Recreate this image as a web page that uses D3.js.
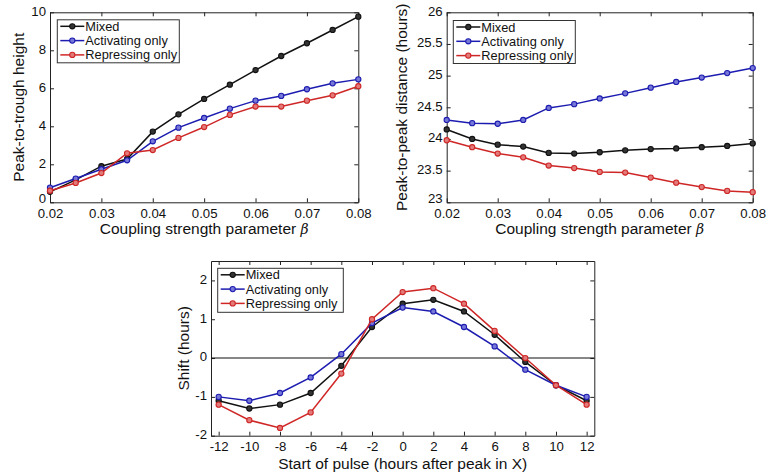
<!DOCTYPE html>
<html>
<head>
<meta charset="utf-8">
<script src="https://cdn.jsdelivr.net/npm/d3@7"></script>
<style>
  html, body { margin: 0; padding: 0; background: #fff; }
  svg { display: block; font-family: "Liberation Sans", Arial, Helvetica, sans-serif; }
  .tick text { font-size: 13.2px; fill: #111; }
  .axis path, .axis line { stroke: #222; }
</style>
</head>
<body>
<svg id="fig" width="769" height="475"></svg>
<script>
// Coupling strength sweep (top panels)
const betaValues = [0.02, 0.025, 0.03, 0.035, 0.04, 0.045, 0.05, 0.055, 0.06, 0.065, 0.07, 0.075, 0.08];

// Peak-to-trough height
const heightMixed      = [0.55, 1.18, 1.90, 2.28, 3.72, 4.63, 5.44, 6.19, 6.96, 7.70, 8.37, 9.07, 9.77];
const heightActivating = [0.77, 1.25, 1.74, 2.21, 3.21, 3.93, 4.44, 4.93, 5.35, 5.60, 5.95, 6.26, 6.47];
const heightRepressing = [0.61, 1.02, 1.54, 2.58, 2.75, 3.39, 3.96, 4.60, 5.04, 5.04, 5.35, 5.63, 6.11];

// Peak-to-peak distance (hours)
const periodMixed      = [24.15, 24.00, 23.91, 23.88, 23.78, 23.77, 23.79, 23.82, 23.84, 23.85, 23.87, 23.89, 23.93];
const periodActivating = [24.30, 24.25, 24.24, 24.30, 24.49, 24.55, 24.64, 24.72, 24.81, 24.90, 24.97, 25.04, 25.12];
const periodRepressing = [23.98, 23.87, 23.77, 23.71, 23.58, 23.54, 23.48, 23.47, 23.39, 23.31, 23.24, 23.18, 23.16];

// Pulse start times (hours after peak in X) and resulting phase shifts
const pulseStart     = [-12, -10, -8, -6, -4, -2, 0, 2, 4, 6, 8, 10, 12];
const shiftMixed      = [-1.1, -1.3, -1.2, -0.9, -0.2, 0.8, 1.4, 1.5, 1.2, 0.6, -0.1, -0.7, -1.1];
const shiftActivating = [-1.0, -1.1, -0.9, -0.5, 0.1, 0.9, 1.3, 1.2, 0.8, 0.3, -0.3, -0.7, -1.0];
const shiftRepressing = [-1.2, -1.6, -1.8, -1.4, -0.4, 1.0, 1.7, 1.8, 1.4, 0.7, 0.0, -0.7, -1.2];

const seriesNames = ["Mixed", "Activating only", "Repressing only"];
const seriesColors = ["#111111", "#1c1cb0", "#cf2626"];
const seriesFills  = ["#333333", "#7777d8", "#e27a7a"];

const betaTicks = [0.02, 0.03, 0.04, 0.05, 0.06, 0.07, 0.08];
const heightTicks = [0, 2, 4, 6, 8, 10];
const periodTicks = [23, 23.5, 24, 24.5, 25, 25.5, 26];
const pulseTicks = [-12, -10, -8, -6, -4, -2, 0, 2, 4, 6, 8, 10, 12];
const shiftTicks = [-2, -1, 0, 1, 2];

const svg = d3.select("#fig");

function panel(opts) {
  const { left, right, top, bottom, xDomain, yDomain, xTicks, yTicks, xFmt, yFmt,
          xs, ys, xTitle, yTitle, yTitleX, xTitleY, legend, zeroLine, xPad, liftFirst } = opts;
  const x = d3.scaleLinear().domain(xDomain).range([left, right]);
  const y = d3.scaleLinear().domain(yDomain).range([bottom, top]);
  const g = svg.append("g");

  // frame with inward ticks on all four sides
  g.append("g").attr("class", "axis").attr("transform", `translate(0,${bottom})`)
    .call(d3.axisBottom(x).tickValues(xTicks).tickFormat(xFmt).tickSize(-4).tickPadding(xPad).tickSizeOuter(0));
  g.append("g").attr("class", "axis").attr("transform", `translate(0,${top})`)
    .call(d3.axisTop(x).tickValues(xTicks).tickFormat("").tickSize(-4).tickSizeOuter(0));
  const yAxis = g.append("g").attr("class", "axis").attr("transform", `translate(${left},0)`)
    .call(d3.axisLeft(y).tickValues(yTicks).tickFormat(yFmt).tickSize(-4).tickPadding(4).tickSizeOuter(0));
  yAxis.selectAll(".tick text").attr("dy", (d, i) => (liftFirst && i === 0) ? "0.02em" : "0.22em");
  g.append("g").attr("class", "axis").attr("transform", `translate(${right},0)`)
    .call(d3.axisRight(y).tickValues(yTicks).tickFormat("").tickSize(-4).tickSizeOuter(0));
  g.selectAll(".axis .domain").attr("stroke-width", 1);

  if (zeroLine) {
    g.append("line").attr("x1", left).attr("x2", right)
      .attr("y1", y(0)).attr("y2", y(0)).attr("stroke", "#111").attr("stroke-width", 1.1);
  }

  const line = d3.line().x((d, i) => x(xs[i])).y(d => y(d));
  ys.forEach((vals, k) => {
    g.append("path").datum(vals).attr("d", line)
      .attr("fill", "none").attr("stroke", seriesColors[k]).attr("stroke-width", 1.5);
    g.selectAll(null).data(vals).enter().append("circle")
      .attr("cx", (d, i) => x(xs[i])).attr("cy", d => y(d)).attr("r", 2.6)
      .attr("fill", seriesFills[k]).attr("stroke", seriesColors[k]).attr("stroke-width", 1.1);
  });

  // axis titles
  const xt = g.append("text").attr("x", (left + right) / 2).attr("y", xTitleY)
    .attr("text-anchor", "middle").attr("font-size", 15.5).attr("fill", "#111");
  xt.selectAll(null).data(xTitle).enter().append("tspan")
    .attr("font-style", d => d.italic ? "italic" : null)
    .attr("font-family", d => d.italic ? "'DejaVu Serif', serif" : null)
    .attr("font-size", d => d.italic ? 14 : null)
    .text(d => d.t);
  g.append("text").attr("transform", `translate(${yTitleX},${(top + bottom) / 2}) rotate(-90)`)
    .attr("text-anchor", "middle").attr("font-size", 15.5).attr("fill", "#111").text(yTitle);

  // legend
  const L = legend;
  g.append("rect").attr("x", L.x).attr("y", L.y).attr("width", L.w).attr("height", L.h)
    .attr("fill", "#fff").attr("stroke", "#333").attr("stroke-width", 1);
  seriesNames.forEach((name, k) => {
    const yy = L.y + 6.5 + k * 14.3;
    g.append("line").attr("x1", L.x + 3).attr("x2", L.x + 27).attr("y1", yy).attr("y2", yy)
      .attr("stroke", seriesColors[k]).attr("stroke-width", 1.5);
    g.append("circle").attr("cx", L.x + 15).attr("cy", yy).attr("r", 2.6)
      .attr("fill", seriesFills[k]).attr("stroke", seriesColors[k]).attr("stroke-width", 1.1);
    g.append("text").attr("x", L.x + 28).attr("y", yy + 4.5).attr("font-size", 12.8)
      .attr("fill", "#111").text(name);
  });
}

const fmt2 = d3.format(".2f");
const plain = d => String(d);

panel({
  left: 50, right: 358.3, top: 12.3, bottom: 202.3,
  xDomain: [0.02, 0.08], yDomain: [0, 10], xTicks: betaTicks, yTicks: heightTicks,
  xFmt: fmt2, yFmt: plain, xPad: 6, liftFirst: true,
  xs: betaValues, ys: [heightMixed, heightActivating, heightRepressing],
  xTitle: [{ t: "Coupling strength parameter " }, { t: "β", italic: true }],
  yTitle: "Peak-to-trough height", yTitleX: 23.5, xTitleY: 234,
  legend: { x: 57.3, y: 19.8, w: 122, h: 43 }
});

panel({
  left: 446.7, right: 752.7, top: 12.3, bottom: 202.3,
  xDomain: [0.02, 0.08], yDomain: [23, 26], xTicks: betaTicks, yTicks: periodTicks,
  xFmt: fmt2, yFmt: plain, xPad: 6, liftFirst: true,
  xs: betaValues, ys: [periodMixed, periodActivating, periodRepressing],
  xTitle: [{ t: "Coupling strength parameter " }, { t: "β", italic: true }],
  yTitle: "Peak-to-peak distance (hours)", yTitleX: 407, xTitleY: 234,
  legend: { x: 453.3, y: 20.5, w: 122, h: 43 }
});

panel({
  left: 211, right: 594.3, top: 261, bottom: 435.7,
  xDomain: [-12.5, 12.5], yDomain: [-2, 2.5], xTicks: pulseTicks, yTicks: shiftTicks,
  xFmt: plain, yFmt: plain, xPad: 5.5, zeroLine: true,
  xs: pulseStart, ys: [shiftMixed, shiftActivating, shiftRepressing],
  xTitle: [{ t: "Start of pulse (hours after peak in X)" }],
  yTitle: "Shift (hours)", yTitleX: 189, xTitleY: 468.5,
  legend: { x: 217.7, y: 268.3, w: 125.6, h: 44 }
});
</script>
</body>
</html>
